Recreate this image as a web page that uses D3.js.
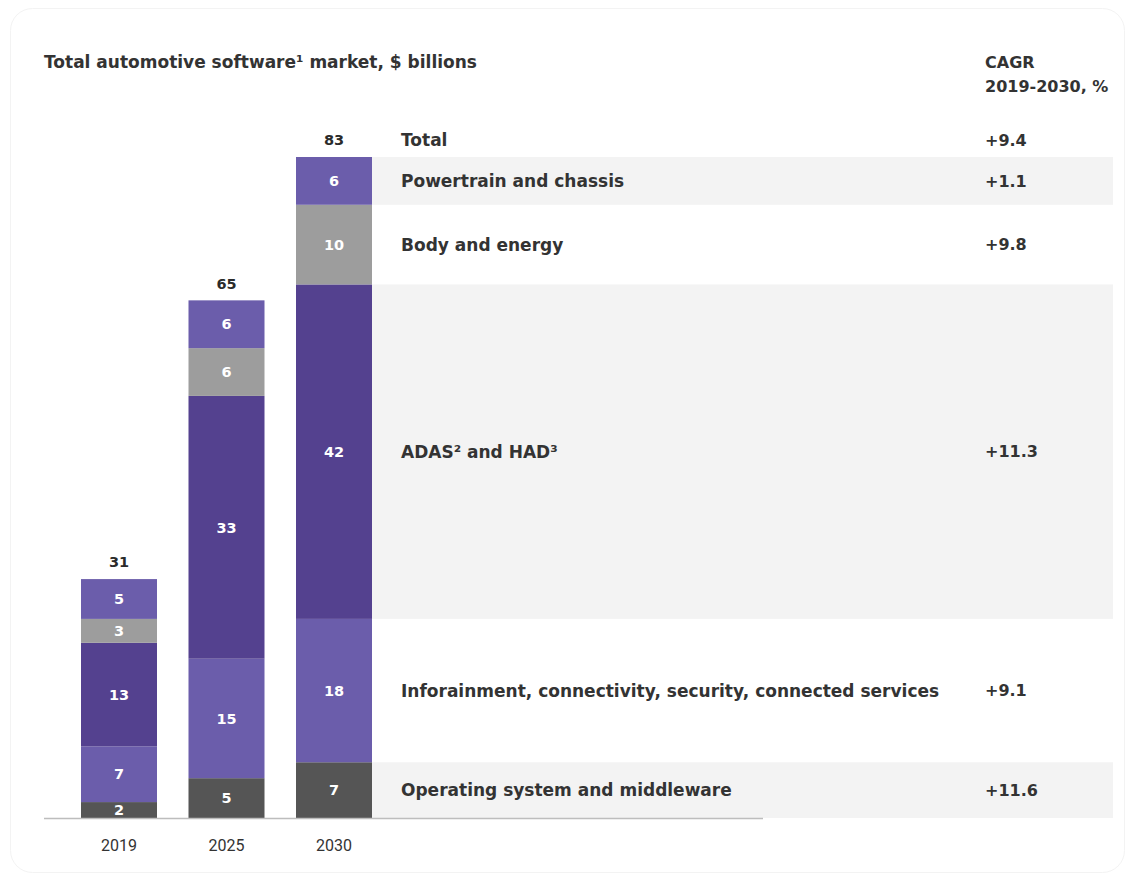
<!DOCTYPE html>
<html>
<head>
<meta charset="utf-8">
<script src="https://cdn.jsdelivr.net/npm/d3@7"></script>
<style>
  html, body { margin: 0; padding: 0; background: #ffffff; }
  svg { display: block; font-family: "DejaVu Sans", sans-serif; }
</style>
</head>
<body>
<svg id="chart" width="1133" height="880"></svg>
<script>
// Years on the x axis
const years = ["2019", "2025", "2030"];

// Segments, bottom to top of each stack
const segments = ["os", "info", "adas", "body", "power"];
const segmentNames = [
  "Operating system and middleware",
  "Inforainment, connectivity, security, connected services",
  "ADAS² and HAD³",
  "Body and energy",
  "Powertrain and chassis"
];
const segmentCagr = ["+11.6", "+9.1", "+11.3", "+9.8", "+1.1"];
const segmentColors = ["#555555", "#6b5dab", "#54418f", "#9d9d9d", "#6b5dab"];

// Market size, $ billions, per segment for each year
const os    = [2, 5, 7];
const info  = [7, 15, 18];
const adas  = [13, 33, 42];
const body  = [3, 6, 10];
const power = [5, 6, 6];

// Stated totals above each stack
const totals = [31, 65, 83];
const totalCagr = "+9.4";

const values = { os, info, adas, body, power };
const rows = years.map((y, i) => {
  const r = { year: y };
  segments.forEach(k => { r[k] = values[k][i]; });
  return r;
});

const svg = d3.select("#chart");

// Card outline
svg.append("rect")
  .attr("x", 10.5).attr("y", 8.5)
  .attr("width", 1114).attr("height", 864)
  .attr("rx", 22)
  .attr("fill", "#ffffff")
  .attr("stroke", "#f3f3f3");

const baseY = 818;
const topY = 157;

const x = d3.scaleBand()
  .domain(years)
  .range([81, 372])
  .paddingInner(0.293)
  .paddingOuter(0);

const y = d3.scaleLinear()
  .domain([0, d3.max(totals)])
  .range([baseY, topY]);

const stack = d3.stack().keys(segments)(rows);
const last = years.length - 1;

// Alternating background bands to the right of the last stack
const bandLeft = x(years[last]) + x.bandwidth();
const bandRight = 1113;
const bands = svg.append("g");
stack.forEach((layer, i) => {
  const d = layer[last];
  if (i % 2 === 0) {
    bands.append("rect")
      .attr("x", bandLeft)
      .attr("y", y(d[1]))
      .attr("width", bandRight - bandLeft)
      .attr("height", y(d[0]) - y(d[1]))
      .attr("fill", "#f3f3f3");
  }
});

// Stacked bars
const layers = svg.append("g").selectAll("g")
  .data(stack)
  .join("g")
  .attr("fill", (d, i) => segmentColors[i]);

layers.selectAll("rect")
  .data(d => d)
  .join("rect")
  .attr("x", d => x(d.data.year))
  .attr("y", d => y(d[1]))
  .attr("width", x.bandwidth())
  .attr("height", d => y(d[0]) - y(d[1]));

// Value labels inside segments
layers.selectAll("text")
  .data(d => d)
  .join("text")
  .attr("x", d => x(d.data.year) + x.bandwidth() / 2)
  .attr("y", d => (y(d[0]) + y(d[1])) / 2)
  .attr("dy", "0.36em")
  .attr("text-anchor", "middle")
  .attr("fill", "#ffffff")
  .attr("font-size", 14.5)
  .attr("font-weight", 700)
  .text(d => d[1] - d[0]);

// Totals above stacks
const stackTop = rows.map((r, i) => stack[stack.length - 1][i][1]);
svg.append("g").selectAll("text")
  .data(years)
  .join("text")
  .attr("x", d => x(d) + x.bandwidth() / 2)
  .attr("y", (d, i) => y(stackTop[i]) - 17)
  .attr("dy", "0.36em")
  .attr("text-anchor", "middle")
  .attr("fill", "#2b2b2b")
  .attr("font-size", 14.5)
  .attr("font-weight", 700)
  .text((d, i) => totals[i]);

// Baseline
svg.append("line")
  .attr("x1", 44).attr("x2", 763)
  .attr("y1", baseY + 0.5).attr("y2", baseY + 0.5)
  .attr("stroke", "#bdbdbd")
  .attr("stroke-width", 1.5);

// Year axis
const xAxis = svg.append("g")
  .attr("transform", `translate(0,${baseY})`)
  .call(d3.axisBottom(x).tickSize(0).tickPadding(22));
xAxis.select(".domain").remove();
xAxis.selectAll("text")
  .attr("font-size", 16)
  .attr("font-family", "Roboto, sans-serif")
  .attr("fill", "#333333");

// Segment names and growth rates beside the last stack
const labelX = 401;
const cagrX = 985;
const lbl = svg.append("g")
  .attr("fill", "#333333")
  .attr("font-size", 17)
  .attr("font-weight", 700);

stack.forEach((layer, i) => {
  const d = layer[last];
  const cy = (y(d[0]) + y(d[1])) / 2;
  lbl.append("text").attr("x", labelX).attr("y", cy).attr("dy", "0.36em")
    .text(segmentNames[i]);
  lbl.append("text").attr("x", cagrX).attr("y", cy).attr("dy", "0.36em")
    .attr("font-size", 16)
    .text(segmentCagr[i]);
});

const totalY = y(stackTop[last]) - 17;
lbl.append("text").attr("x", labelX).attr("y", totalY).attr("dy", "0.36em").text("Total");
lbl.append("text").attr("x", cagrX).attr("y", totalY).attr("dy", "0.36em")
  .attr("font-size", 16).text(totalCagr);

// Title and column header
svg.append("text")
  .attr("x", 44).attr("y", 62).attr("dy", "0.36em")
  .attr("fill", "#333333")
  .attr("font-size", 17)
  .attr("font-weight", 700)
  .text("Total automotive software¹ market, $ billions");

const hdr = svg.append("text")
  .attr("fill", "#333333")
  .attr("font-size", 16)
  .attr("font-weight", 700);
hdr.append("tspan").attr("x", cagrX).attr("y", 62).attr("dy", "0.36em").text("CAGR");
hdr.append("tspan").attr("x", cagrX).attr("y", 86).attr("dy", "0.36em").text("2019-2030, %");
</script>
</body>
</html>
